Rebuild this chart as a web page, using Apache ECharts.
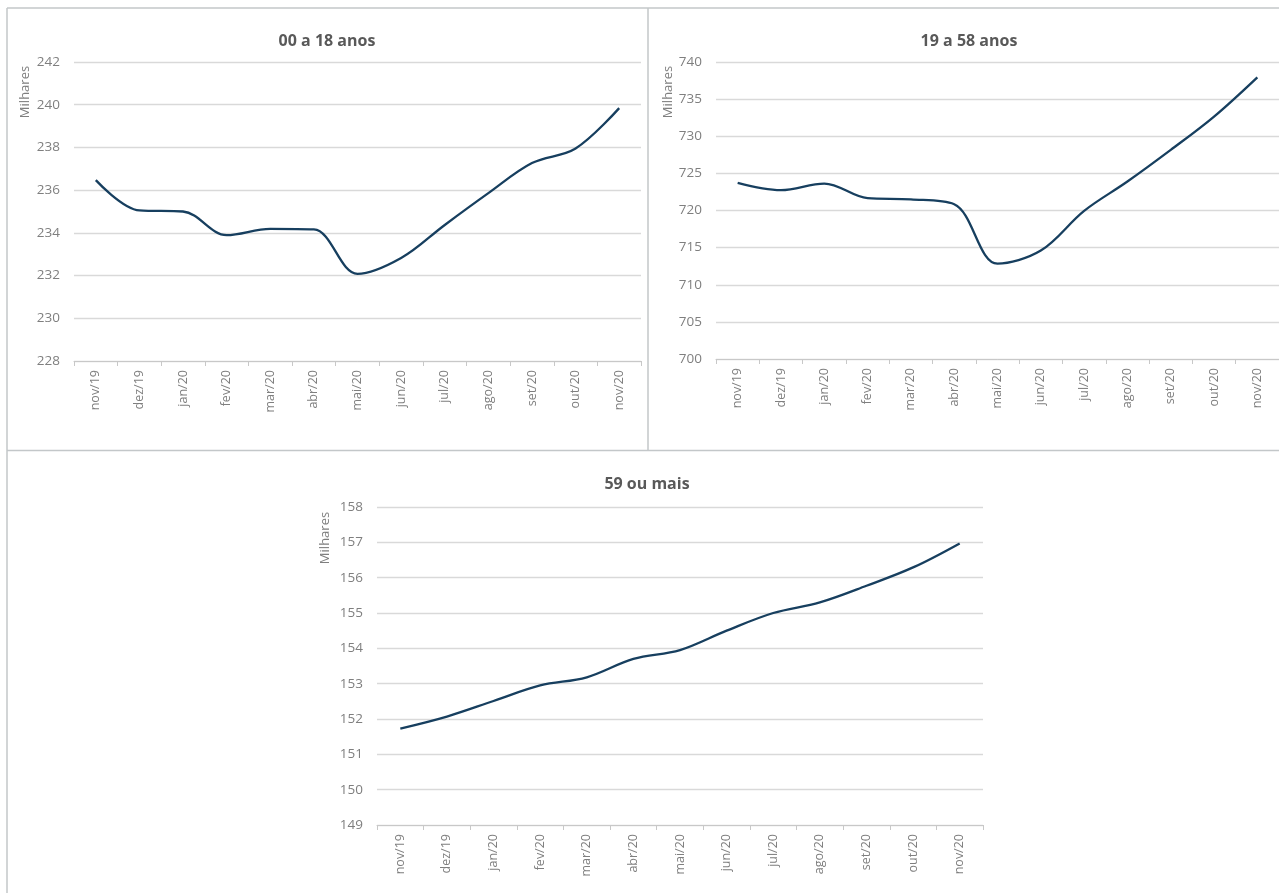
<!DOCTYPE html>
<html>
<head>
<meta charset="utf-8">
<script src="https://cdn.jsdelivr.net/npm/echarts@6/dist/echarts.min.js"></script>
<style>
html,body{margin:0;padding:0;background:#fff;}
#c{width:1279px;height:893px;}
</style>
</head>
<body>
<div id="c"></div>
<script>
const months = ['nov/19','dez/19','jan/20','fev/20','mar/20','abr/20','mai/20','jun/20','jul/20','ago/20','set/20','out/20','nov/20'];
const titles = ['00 a 18 anos','19 a 58 anos','59 ou mais'];
const yName = 'Milhares';
const age0018 = [236.47,235.05,235.0,233.89,234.19,234.16,232.08,232.82,234.37,235.86,237.27,237.95,239.84];
const age1958 = [723.72,722.74,723.63,721.66,721.5,720.85,712.84,714.6,719.95,723.9,728.16,732.65,737.94];
const age59 = [151.73,152.07,152.51,152.95,153.18,153.70,153.95,154.50,155.00,155.30,155.77,156.29,156.97];
const yRanges = [[228,242,2],[700,740,5],[149,158,1]];

const chart = echarts.init(document.getElementById('c'));
const FONT = '"Open Sans", "Noto Sans", sans-serif';
const grids = [
  {left:74, top:62, width:567, height:299},
  {left:716, top:62, width:566, height:297},
  {left:377, top:507, width:606, height:318}
];
const titlePos = [{x:322,y:28},{x:964,y:28},{x:642,y:471}];
const namePos = [{x:25,y:92},{x:668,y:92},{x:325,y:538}];
const seriesData = [age0018, age1958, age59];

const xAxes = [], yAxes = [], series = [], titleArr = [], graphics = [];
for (let i=0;i<3;i++){
  xAxes.push({
    type:'category', gridIndex:i, data:months, boundaryGap:true,
    axisLine:{lineStyle:{color:'#c8c8c8',width:1}},
    axisTick:{show:true, length:5, lineStyle:{color:'#c8c8c8'}},
    axisLabel:{rotate:90, color:'#7f7f7f', fontSize:12.5, fontFamily:FONT, margin:9, interval:0}
  });
  yAxes.push({
    type:'value', gridIndex:i, min:yRanges[i][0], max:yRanges[i][1], interval:yRanges[i][2],
    axisLine:{show:false}, axisTick:{show:false},
    axisLabel:{color:'#7f7f7f', fontSize:13.5, fontFamily:FONT, margin:14},
    splitLine:{lineStyle:{color:'#d9d9d9', width:1.3}}
  });
  series.push({
    type:'line', xAxisIndex:i, yAxisIndex:i, data:seriesData[i],
    smooth:0.35, symbol:'none',
    lineStyle:{color:'#173f5f', width:2.3}
  });
  titleArr.push({
    text:titles[i], left:titlePos[i].x, top:titlePos[i].y, textAlign:'center',
    textStyle:{color:'#595959', fontSize:16, fontWeight:'bold', fontFamily:FONT}
  });
  graphics.push({
    type:'text', x:namePos[i].x, y:namePos[i].y, rotation:Math.PI/2,
    style:{text:yName, fill:'#7f7f7f', font:'13px ' + FONT, textAlign:'center', textVerticalAlign:'middle'}
  });
}
// frames
const frameStyle = {stroke:'#c3c7c9', lineWidth:1.5};
graphics.push({type:'line', shape:{x1:7,y1:8,x2:1279,y2:8}, style:frameStyle});
graphics.push({type:'line', shape:{x1:7,y1:8,x2:7,y2:893}, style:frameStyle});
graphics.push({type:'line', shape:{x1:648,y1:8,x2:648,y2:450}, style:frameStyle});
graphics.push({type:'line', shape:{x1:7,y1:450.5,x2:1279,y2:450.5}, style:frameStyle});

chart.setOption({
  animation:false,
  backgroundColor:'#ffffff',
  title:titleArr,
  grid:grids,
  xAxis:xAxes,
  yAxis:yAxes,
  series:series,
  graphic:graphics
});
</script>
</body>
</html>
